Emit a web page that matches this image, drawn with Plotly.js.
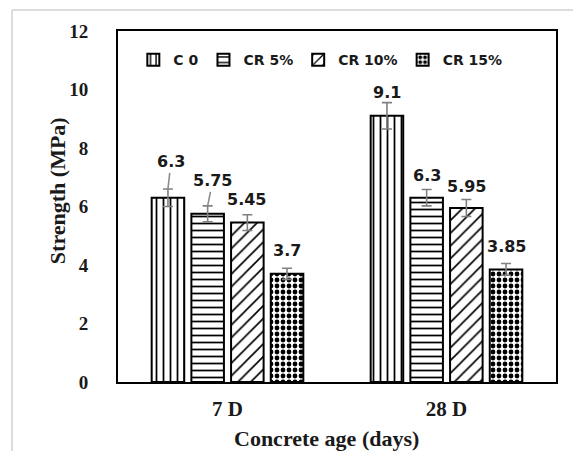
<!DOCTYPE html>
<html>
<head>
<meta charset="utf-8">
<script src="https://cdn.plot.ly/plotly-3.0.1.min.js"></script>
<style>html,body{margin:0;padding:0;background:#fff;}#chart{width:573px;height:451px;}</style>
</head>
<body>
<div id="chart"></div>
<script>
// ---- data ----
const categories = ['7 D', '28 D'];
const seriesNames = ['C 0', 'CR 5%', 'CR 10%', 'CR 15%'];
const c0   = [6.3, 9.1];
const cr5  = [5.75, 6.3];
const cr10 = [5.45, 5.95];
const cr15 = [3.7, 3.85];
const errC0   = [0.3, 0.45];
const errCR5  = [0.27, 0.28];
const errCR10 = [0.27, 0.29];
const errCR15 = [0.19, 0.2];
const yTickVals = [0, 2, 4, 6, 8, 10, 12];

// ---- styling ----
const values = [c0, cr5, cr10, cr15];
const errors = [errC0, errCR5, errCR10, errCR15];
const patterns = [
  {shape: '|', size: 7, solidity: 0.25},
  {shape: '-', size: 7, solidity: 0.25},
  {shape: '/', size: 9, solidity: 0.18},
  {shape: '.', size: 6, solidity: 0.5}
];
const bargap = 0.275, bargroupgap = 0.18;
// label offsets [series][category] in px: [ax, ay, showLine]
const labelOffsets = [
  [[3, -27, true], [0, -10, false]],
  [[5, -25, true], [0, -14, false]],
  [[-1, -15, false], [0, -13, false]],
  [[0, -18, false], [0, -17, false]]
];

const traces = values.map((v, i) => ({
  type: 'bar',
  name: seriesNames[i],
  x: categories,
  y: v,
  marker: {
    color: 'white',
    line: {color: 'black', width: 2},
    pattern: Object.assign({fgcolor: 'black', bgcolor: 'white', fillmode: 'replace'}, patterns[i])
  },
  error_y: {type: 'data', array: errors[i], visible: true, color: '#808080', thickness: 1.6, width: 5},
  hoverinfo: 'none'
}));

const n = values.length;
const slot = (1 - bargap) / n;
const annotations = [];
values.forEach((v, i) => {
  v.forEach((val, j) => {
    const off = labelOffsets[i][j];
    annotations.push({
      x: j + (i - (n - 1) / 2) * slot,
      y: val + errors[i][j],
      xref: 'x', yref: 'y',
      text: String(val),
      showarrow: true,
      arrowhead: 0,
      arrowwidth: 1.6,
      arrowcolor: off[2] ? '#8c8c8c' : 'rgba(0,0,0,0)',
      ax: off[0], ay: off[1],
      axref: 'pixel', ayref: 'pixel',
      font: {family: 'DejaVu Sans', size: 16, color: '#1a1a1a', weight: 'bold'}
    });
  });
});
annotations.push({
  xref: 'paper', yref: 'paper', x: -0.139, y: 0.544,
  text: 'Strength (MPa)', textangle: -90, showarrow: false,
  xanchor: 'center', yanchor: 'middle',
  font: {family: 'Liberation Serif', size: 22, color: '#1a1a1a', weight: 'bold'}
});
annotations.push({
  xref: 'paper', yref: 'paper', x: 0.477, y: -0.16,
  text: 'Concrete age (days)', showarrow: false,
  xanchor: 'center', yanchor: 'middle',
  font: {family: 'Liberation Serif', size: 22, color: '#1a1a1a', weight: 'bold'}
});

const layout = {
  width: 573, height: 451,
  margin: {l: 118, r: 17, t: 31, b: 69},
  paper_bgcolor: 'white', plot_bgcolor: 'white',
  barmode: 'group', bargap: bargap, bargroupgap: bargroupgap,
  showlegend: true,
  legend: {
    orientation: 'h', x: 0.035, y: 0.917, xanchor: 'left', yanchor: 'middle',
    bgcolor: 'rgba(0,0,0,0)',
    font: {family: 'DejaVu Sans', size: 14, color: '#1a1a1a', weight: 'bold'},
    itemwidth: 30
  },
  xaxis: {
    type: 'category',
    showline: true, mirror: true, linecolor: 'black', linewidth: 2,
    ticks: '', showgrid: false, zeroline: false,
    ticklabelstandoff: 7,
    tickfont: {family: 'Liberation Serif', size: 21, color: '#1a1a1a', weight: 'bold'}
  },
  yaxis: {
    range: [0, 12], tickvals: yTickVals,
    showline: true, mirror: true, linecolor: 'black', linewidth: 2,
    ticks: '', showgrid: false, zeroline: false,
    ticklabelstandoff: 24,
    tickfont: {family: 'Liberation Serif', size: 19, color: '#1a1a1a', weight: 'bold'}
  },
  annotations: annotations,
  shapes: [
    {type: 'line', xref: 'paper', yref: 'paper', x0: (12 - 118) / 438, x1: (573 - 118) / 438 + 0.05, y0: (382 - 10) / 351, y1: (382 - 10) / 351, line: {color: '#d0d0d0', width: 1.5}},
    {type: 'line', xref: 'paper', yref: 'paper', x0: (12 - 118) / 438, x1: (12 - 118) / 438, y0: (382 - 10) / 351, y1: -0.3, line: {color: '#d0d0d0', width: 1.5}}
  ]
};

Plotly.newPlot('chart', traces, layout, {staticPlot: true, displayModeBar: false});
</script>
</body>
</html>
